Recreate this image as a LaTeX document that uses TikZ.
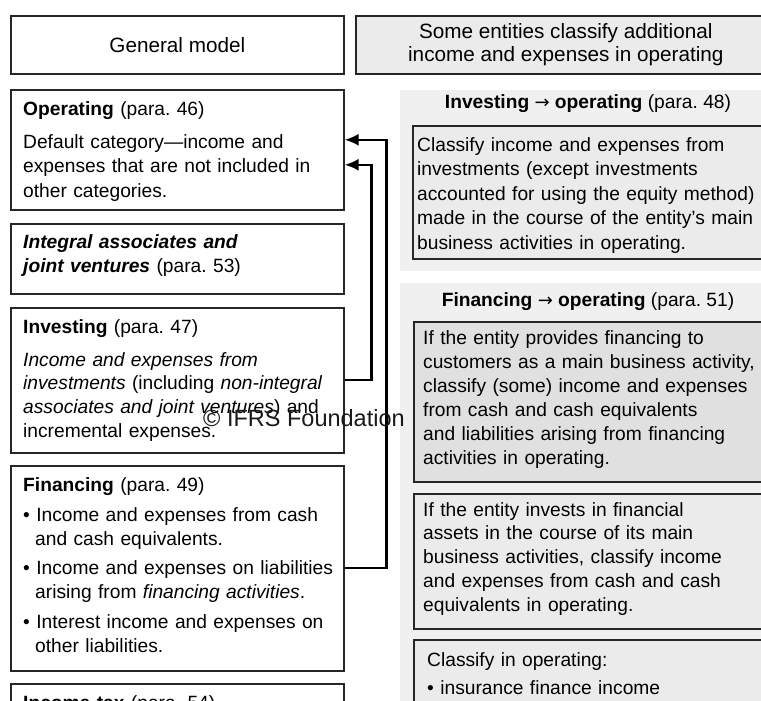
\documentclass[tikz,border=0pt]{standalone}
\usepackage{fontspec}
\setmainfont{Liberation Sans}
\newfontfamily\arrowfont{DejaVu Sans}
\newcommand{\rarr}{{\normalfont\arrowfont\fontsize{18}{20}\selectfont →}}
\usetikzlibrary{arrows.meta,calc}
\tikzset{
  lbox/.style={draw=black!85, line width=1.6pt, fill=white, anchor=north west, inner sep=0pt},
  rbox/.style={draw=black!85, line width=1.6pt, fill=black!8, anchor=north west, inner sep=0pt},
  panel/.style={fill=black!6, draw=none, anchor=north west, inner sep=0pt},
  txt/.style={anchor=base west, inner sep=0pt, align=left, text width=345pt, font=\fontsize{19.2}{24.2}\selectfont},
  head/.style={anchor=base, inner sep=0pt, font=\fontsize{19.2}{24.2}\selectfont},
  arr/.style={line width=2.3pt, -{Latex[length=14pt,width=12pt]}},
}
\begin{document}
\begin{tikzpicture}[x=1pt,y=-1pt]
\useasboundingbox (0,0) rectangle (761,701);
\clip (0,0) rectangle (761,701);
% right panels
\node[panel, minimum width=380, minimum height=181] (p1) at (400,90) {};
\node[panel, minimum width=380, minimum height=430] (p2) at (400,283) {};
% header boxes
\node[lbox, minimum width=333, minimum height=58] (gm) at (10,15) {};
\node[head, anchor=center, font=\fontsize{20.7}{24}\selectfont] at (gm.center) {General model};
\node[rbox, minimum width=420, minimum height=58] (rh) at (355,15) {};
\node[head, anchor=center, align=center, font=\fontsize{20.7}{23}\selectfont] at (rh.center) {Some entities classify additional\\income and expenses in operating};
% left boxes
\node[lbox, minimum width=333, minimum height=120] (op) at (10,89) {};
\node[lbox, minimum width=333, minimum height=70] (ia) at (10,223) {};
\node[lbox, minimum width=333, minimum height=145] (inv) at (10,307) {};
\node[lbox, minimum width=333, minimum height=205] (fin) at (10,465) {};
\node[lbox, minimum width=333, minimum height=60] (tax) at (10,683) {};
% left texts
\node[txt] (opT) at (23,116) {\textbf{Operating} (para.\ 46)};
\node[txt, font=\fontsize{19.2}{24.5}\selectfont] (opB) at (23,148) {Default category—income and\\expenses that are not included in\\other categories.};
\node[txt] (iaT) at (23,248) {\textbf{\textit{Integral associates and}}\\\textbf{\textit{joint ventures}} (para.\ 53)};
\node[txt] (invT) at (23,333) {\textbf{Investing} (para.\ 47)};
\node[txt, font=\fontsize{19.2}{23.7}\selectfont] (invB) at (23,366) {\textit{Income and expenses from}\\\textit{investments} (including \textit{non-integral}\\\textit{associates and joint ventures}) and\\incremental expenses.};
\node[txt] (finT) at (23,491) {\textbf{Financing} (para.\ 49)};
\node[txt] (finB1) at (23,521) {• Income and expenses from cash\\\hspace*{12pt}and cash equivalents.};
\node[txt] (finB2) at (23,574) {• Income and expenses on liabilities\\\hspace*{12pt}arising from \textit{financing activities}.};
\node[txt] (finB3) at (23,628) {• Interest income and expenses on\\\hspace*{12pt}other liabilities.};
\node[txt] (taxT) at (23,709) {\textbf{Income tax} (para.\ 54)};
% right: investing -> operating
\node[head] (h1) at (588,109) {\textbf{Investing \rarr{} operating} (para.\ 48)};
\node[rbox, minimum width=360, minimum height=133] (ib1) at (412,125) {};
\node[txt, font=\fontsize{19.2}{24.5}\selectfont] (ib1t) at (417,151) {Classify income and expenses from\\investments (except investments\\accounted for using the equity method)\\made in the course of the entity’s main\\business activities in operating.};
% right: financing -> operating
\node[head] (h2) at (588,306) {\textbf{Financing \rarr{} operating} (para.\ 51)};
\node[rbox, fill=black!12, minimum width=360, minimum height=160] (fb1) at (413,321) {};
\node[txt, font=\fontsize{19.2}{24}\selectfont] (fb1t) at (423,344) {If the entity provides financing to\\customers as a main business activity,\\classify (some) income and expenses\\from cash and cash equivalents\\and liabilities arising from financing\\activities in operating.};
\node[rbox, minimum width=360, minimum height=135] (fb2) at (413,493) {};
\node[txt, font=\fontsize{19.2}{23.8}\selectfont] (fb2t) at (423,516) {If the entity invests in financial\\assets in the course of its main\\business activities, classify income\\and expenses from cash and cash\\equivalents in operating.};
\node[rbox, minimum width=360, minimum height=80] (fb3) at (413,639) {};
\node[txt] (fb3t) at (427,666) {Classify in operating:};
\node[txt] (fb3b) at (427,694) {• insurance finance income};
% connectors
\draw[arr] (fin.east) -- ($(fin.east)+(42,0)$) |- ($(op.east)+(0,-10)$);
\draw[arr] (inv.east) -- ($(inv.east)+(27,0)$) |- ($(op.east)+(0,15)$);
% watermark
\node[anchor=base west, inner sep=0pt, font=\fontsize{23.5}{28}\selectfont, text=black!90] (wm) at (203,426) {© IFRS Foundation};
\end{tikzpicture}
\end{document}
